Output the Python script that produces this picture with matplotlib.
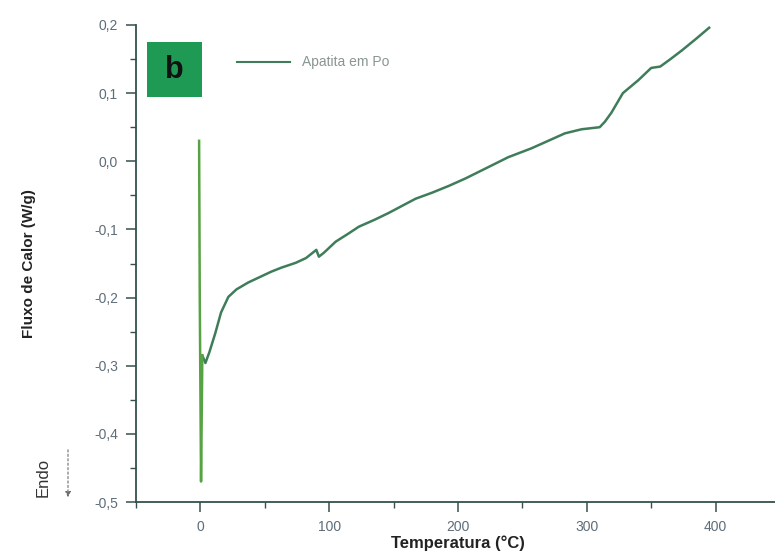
import matplotlib
matplotlib.use('Agg')
import matplotlib.pyplot as plt
from matplotlib.patches import Rectangle
from matplotlib.ticker import MultipleLocator, FuncFormatter

plt.rcParams['font.family'] = ['Liberation Sans', 'DejaVu Sans']

# initial transient of the DSC run
spike_t = [-1.0, -0.5, 0.5, 1.5]
spike_q = [0.03, -0.20, -0.47, -0.285]

# heat flow curve (Apatita em Po)
temp = [1.5, 3.9, 7.0, 11.6, 16.0, 21.7, 28.0, 37.0, 46.0, 55.0, 63.0, 74.0, 82.0,
        88.0, 90.0, 92.0, 96.0, 105.0, 115.0, 123.0, 135.0, 146.0, 156.0, 167.0,
        180.0, 193.0, 206.0, 222.0, 239.0, 257.0, 270.0, 283.0, 296.0, 310.0,
        314.0, 319.0, 328.0, 340.0, 350.0, 357.0, 365.0, 374.0, 385.0, 395.0]
flux = [-0.285, -0.296, -0.280, -0.252, -0.222, -0.199, -0.188, -0.178, -0.170,
        -0.162, -0.156, -0.149, -0.142, -0.133, -0.130, -0.140, -0.134, -0.118,
        -0.106, -0.096, -0.086, -0.076, -0.066, -0.055, -0.046, -0.036, -0.025,
        -0.010, 0.006, 0.019, 0.030, 0.041, 0.047, 0.050, 0.058, 0.071, 0.100,
        0.119, 0.137, 0.139, 0.150, 0.163, 0.180, 0.196]

spine_col = '#34504e'
tick_col = '#5d6d78'

fig = plt.figure(figsize=(7.75, 5.58), dpi=100)
ax = fig.add_axes([136 / 775, 56 / 558, 644 / 775, 477 / 558])

ax.plot(spike_t, spike_q, color='#57a343', lw=1.8, zorder=3)
ax.plot(temp, flux, color='#3f7d5a', lw=1.8, zorder=2)

ax.set_xlim(-50, 450)
ax.set_ylim(-0.5, 0.2)

ax.xaxis.set_major_locator(MultipleLocator(100))
ax.xaxis.set_minor_locator(MultipleLocator(50))
ax.yaxis.set_major_locator(MultipleLocator(0.1))
ax.yaxis.set_minor_locator(MultipleLocator(0.05))
ax.yaxis.set_major_formatter(FuncFormatter(lambda v, p: ('%.1f' % v).replace('.', ',')
                                           if abs(v) > 1e-9 else '0,0'))

for s in ['top', 'right']:
    ax.spines[s].set_visible(False)
for s in ['left', 'bottom']:
    ax.spines[s].set_color(spine_col)
    ax.spines[s].set_linewidth(1.3)

ax.tick_params(which='both', direction='out', colors=spine_col, labelcolor=tick_col,
               labelsize=10)
ax.tick_params(which='major', length=7, width=1.1)
ax.tick_params(which='minor', length=4, width=1.0)
ax.tick_params(axis='x', pad=6)
ax.tick_params(axis='y', pad=6)

ax.set_xlabel('Temperatura (°C)', fontsize=12, fontweight='bold', color='#222222',
              labelpad=1)
ax.set_ylabel('Fluxo de Calor (W/g)', fontsize=11, fontweight='bold', color='#222222',
              labelpad=42)

# "b" panel tag and legend entry
fig.patches.append(Rectangle((147 / 775, 1 - 97 / 558), 55 / 775, 55 / 558,
                             transform=fig.transFigure, facecolor='#1f9a55',
                             edgecolor='none', zorder=5))
fig.text(174.5 / 775, 1 - 70 / 558, 'b', fontsize=22, fontweight='bold',
         color='#111111', ha='center', va='center', zorder=6)
fig.lines.append(plt.Line2D([237 / 775, 290 / 775], [1 - 62 / 558, 1 - 62 / 558],
                            transform=fig.transFigure, color='#3f7d5a', lw=1.5))
fig.text(302 / 775, 1 - 62 / 558, 'Apatita em Po', fontsize=10, color='#8a9690',
         ha='left', va='center')

# endothermic direction marker
fig.text(43 / 775, 1 - 477 / 558, 'Endo', rotation=90, fontsize=12,
         color='#333333', ha='center', va='center')
ax.annotate('', xy=(68 / 775, 1 - 500 / 558), xytext=(68 / 775, 1 - 447 / 558),
            xycoords='figure fraction', textcoords='figure fraction',
            arrowprops=dict(arrowstyle='-|>', color='#6a7070', lw=0.8,
                            mutation_scale=8, linestyle=(0, (2, 2))))

fig.savefig('out.png', dpi=100)
